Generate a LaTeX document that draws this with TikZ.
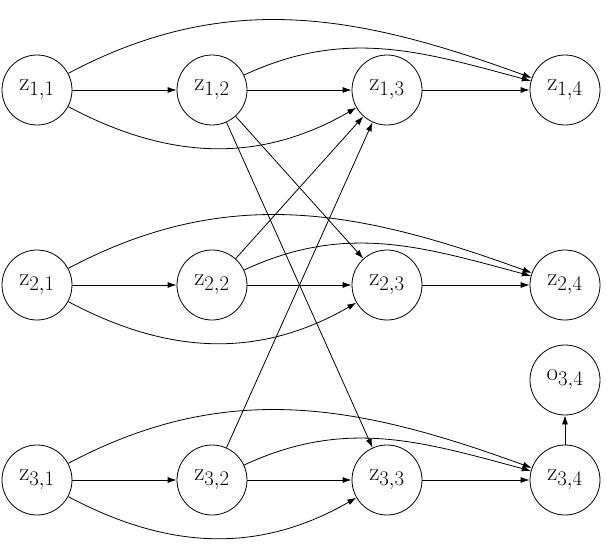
\documentclass[tikz,border=0pt]{standalone}
\usetikzlibrary{arrows.meta}
\begin{document}
\begin{tikzpicture}[x=1pt,y=-1pt,
  v/.style={circle,draw,line width=0.8pt,minimum size=70pt,inner sep=0pt,font=\fontsize{28}{32}\selectfont},
  e/.style={-{Latex[length=9pt,width=6pt]},line width=0.8pt}]
\useasboundingbox (0,0) rectangle (606,546);
\foreach \r/\y in {1/90,2/285,3/480}{
  \node[v] (z\r1) at (37,\y) {$\mathrm{z}_{\r,1}$};
  \node[v] (z\r2) at (212,\y) {$\mathrm{z}_{\r,2}$};
  \node[v] (z\r3) at (387,\y) {$\mathrm{z}_{\r,3}$};
  \node[v] (z\r4) at (565,\y) {$\mathrm{z}_{\r,4}$};
  \draw[e] (z\r1) -- (z\r2);
  \draw[e] (z\r2) -- (z\r3);
  \draw[e] (z\r3) -- (z\r4);
  \draw[e] (z\r1) to[out=28,in=160] (z\r4);
  \draw[e] (z\r2) to[out=25,in=165] (z\r4);
  \draw[e] (z\r1) to[out=-28,in=-150] (z\r3);
}
\node[v] (o34) at (565,380) {$\mathrm{o}_{3,4}$};
\draw[e] (z34) -- (o34);
\draw[e] (z12) -- (z23);
\draw[e] (z12) -- (z33);
\draw[e] (z22) -- (z13);
\draw[e] (z32) -- (z13);
\end{tikzpicture}
\end{document}
